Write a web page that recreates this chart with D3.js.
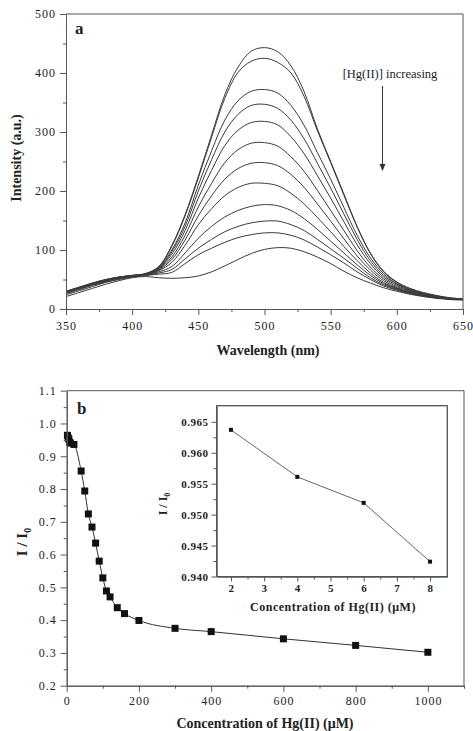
<!DOCTYPE html>
<html>
<head>
<meta charset="utf-8">
<script src="https://cdn.jsdelivr.net/npm/d3@7"></script>
<style>
  body { margin: 0; background: #fff; }
  svg text { font-family: "Liberation Serif", "Times New Roman", serif; fill: #222; }
</style>
</head>
<body>
<div id="chart"></div>
<script>
// ---------- data: panel a (emission spectra) ----------
const wavelengths = [350, 360, 370, 380, 390, 400, 410, 420, 430, 440, 450, 460, 470, 480, 490, 500,
  510, 520, 530, 540, 550, 560, 570, 580, 590, 600, 610, 620, 630, 640, 650];

const spectra = [
  [30, 37, 44, 50, 54, 57, 60, 72, 108, 160, 225, 295, 363, 410, 437, 443, 436, 412, 368, 305, 250, 195, 140, 95, 64, 46, 35, 28, 23, 19, 17],
  [30, 37, 44, 50, 54, 57, 60, 71, 106, 158, 222, 291, 357, 401, 420, 425, 418, 400, 360, 302, 248, 193, 139, 94, 63, 45, 34, 27, 22, 19, 17],
  [29, 36, 43, 49, 54, 57, 59, 70, 100, 146, 210, 268, 320, 353, 369, 372, 366, 345, 311, 265, 220, 172, 125, 87, 60, 43, 33, 26, 22, 18, 17],
  [29, 36, 43, 49, 54, 56, 59, 69, 97, 140, 200, 253, 300, 330, 345, 347, 340, 320, 288, 247, 205, 161, 118, 82, 57, 42, 32, 26, 21, 18, 16],
  [29, 36, 43, 49, 53, 56, 59, 68, 93, 133, 188, 235, 277, 303, 316, 318, 312, 292, 263, 226, 188, 148, 109, 77, 54, 40, 31, 25, 21, 18, 16],
  [28, 35, 42, 48, 53, 56, 59, 67, 88, 125, 173, 213, 248, 270, 281, 282, 276, 258, 233, 201, 167, 133, 99, 71, 51, 38, 30, 24, 20, 17, 16],
  [28, 35, 42, 48, 53, 56, 58, 66, 84, 117, 158, 192, 220, 238, 247, 248, 243, 228, 206, 178, 149, 119, 90, 66, 48, 36, 29, 24, 20, 17, 16],
  [28, 35, 42, 48, 53, 56, 58, 65, 79, 108, 143, 170, 192, 206, 213, 213, 209, 196, 178, 155, 131, 106, 82, 61, 45, 35, 28, 23, 19, 17, 16],
  [27, 34, 41, 47, 52, 55, 58, 63, 72, 95, 120, 140, 156, 167, 174, 177, 175, 167, 153, 135, 115, 95, 75, 57, 43, 34, 27, 23, 19, 17, 16],
  [26, 33, 40, 46, 51, 55, 57, 61, 67, 85, 103, 118, 131, 140, 146, 149, 149, 143, 133, 118, 102, 86, 69, 53, 41, 33, 27, 22, 19, 17, 16],
  [24, 31, 38, 45, 50, 54, 57, 59, 62, 77, 92, 103, 113, 121, 126, 129, 129, 125, 117, 105, 92, 78, 63, 50, 39, 32, 26, 22, 19, 17, 16],
  [21, 28, 35, 42, 48, 53, 55, 53, 52, 53, 56, 63, 73, 84, 94, 101, 104, 103, 97, 88, 77, 64, 53, 44, 36, 30, 25, 21, 18, 16, 15]
];

const aXTicks = [350, 400, 450, 500, 550, 600, 650];
const aXMinor = [375, 425, 475, 525, 575, 625];
const aYTicks = [0, 100, 200, 300, 400, 500];
const aYMinor = [50, 150, 250, 350, 450];

// ---------- data: panel b (quenching curve) ----------
const conc = [2, 4, 6, 8, 10, 20, 40, 50, 60, 70, 80, 90, 100, 110, 120, 140, 160, 200, 300, 400, 600, 800, 1000];
const ratio = [0.964, 0.956, 0.952, 0.943, 0.940, 0.936, 0.855, 0.794, 0.724, 0.684, 0.635, 0.580, 0.529, 0.489,
  0.471, 0.438, 0.420, 0.399, 0.375, 0.365, 0.343, 0.323, 0.302];

const bXTicks = [0, 200, 400, 600, 800, 1000];
const bXMinor = [100, 300, 500, 700, 900, 1100];
const bYTicks = [0.2, 0.3, 0.4, 0.5, 0.6, 0.7, 0.8, 0.9, 1.0, 1.1];
const bYMinor = [0.25, 0.35, 0.45, 0.55, 0.65, 0.75, 0.85, 0.95, 1.05];

// inset
const insetConc = [2, 4, 6, 8];
const insetRatio = [0.9637, 0.9561, 0.9519, 0.9424];
const iXTicks = [2, 3, 4, 5, 6, 7, 8];
const iXMinor = [2.5, 3.5, 4.5, 5.5, 6.5, 7.5];
const iYTicks = [0.940, 0.945, 0.950, 0.955, 0.960, 0.965];
const iYMinor = [0.9425, 0.9475, 0.9525, 0.9575, 0.9625];

// ---------- svg ----------
const svg = d3.select("#chart").append("svg")
  .attr("width", 473)
  .attr("height", 731);

// draws bottom/left axes with minor ticks plus top/right frame
function frame(box, x, y, cfg) {
  const g = svg.append("g");
  const style = (sel) => {
    sel.selectAll("path, line").attr("stroke", "#555").attr("stroke-width", 1);
    sel.selectAll("text")
      .style("font-size", cfg.fontSize + "px")
      .style("font-weight", cfg.weight)
      .style("letter-spacing", cfg.spacing + "px");
  };
  g.append("g").attr("transform", `translate(0,${box.bottom})`)
    .call(d3.axisBottom(x).tickValues(cfg.xMinor).tickSize(cfg.minor).tickFormat("").tickSizeOuter(0))
    .call(style);
  g.append("g").attr("transform", `translate(${box.left},0)`)
    .call(d3.axisLeft(y).tickValues(cfg.yMinor).tickSize(cfg.minor).tickFormat("").tickSizeOuter(0))
    .call(style);
  g.append("g").attr("transform", `translate(0,${box.bottom})`)
    .call(d3.axisBottom(x).tickValues(cfg.xTicks).tickSize(cfg.major).tickPadding(cfg.xPad)
      .tickFormat(cfg.xFmt).tickSizeOuter(0))
    .call(style);
  g.append("g").attr("transform", `translate(${box.left},0)`)
    .call(d3.axisLeft(y).tickValues(cfg.yTicks).tickSize(cfg.major).tickPadding(cfg.yPad)
      .tickFormat(cfg.yFmt).tickSizeOuter(0))
    .call(style);
  g.append("path")
    .attr("d", `M${box.left},${box.top}H${box.right}V${box.bottom}`)
    .attr("fill", "none")
    .attr("stroke", "#555");
}

// ---------- panel a ----------
const boxA = { left: 66, right: 463, top: 14, bottom: 309 };
const xA = d3.scaleLinear().domain([350, 650]).range([boxA.left, boxA.right]);
const yA = d3.scaleLinear().domain([0, 500]).range([boxA.bottom, boxA.top]);

const lineA = d3.line()
  .x((d, i) => xA(wavelengths[i]))
  .y((d) => yA(d))
  .curve(d3.curveCatmullRom.alpha(0.5));

svg.append("g")
  .selectAll("path")
  .data(spectra)
  .join("path")
  .attr("d", lineA)
  .attr("fill", "none")
  .attr("stroke", "#3a3a3a")
  .attr("stroke-width", 1);

frame(boxA, xA, yA, {
  xTicks: aXTicks, xMinor: aXMinor, yTicks: aYTicks, yMinor: aYMinor,
  xFmt: d3.format("d"), yFmt: d3.format("d"),
  major: 6, minor: 3, xPad: 6, yPad: 4, fontSize: 12, weight: "normal", spacing: 1
});

svg.append("text").attr("x", 75).attr("y", 34)
  .style("font-size", "17px").style("font-weight", "bold").text("a");

svg.append("text").attr("x", 268).attr("y", 355).attr("text-anchor", "middle")
  .style("font-size", "14px").style("font-weight", "bold").text("Wavelength (nm)");

svg.append("text").attr("transform", "translate(21,158) rotate(-90)").attr("text-anchor", "middle")
  .style("font-size", "14px").style("font-weight", "bold").text("Intensity (a.u.)");

// arrow annotation
svg.append("text").attr("x", 390).attr("y", 78).attr("text-anchor", "middle")
  .style("font-size", "12.5px").text("[Hg(II)] increasing");
svg.append("line")
  .attr("x1", 382.5).attr("x2", 382.5).attr("y1", 86).attr("y2", 166)
  .attr("stroke", "#333").attr("stroke-width", 1);
svg.append("path")
  .attr("d", "M379.5,164 L385.5,164 L382.5,171 Z")
  .attr("fill", "#333");

// ---------- panel b ----------
const boxB = { left: 66.7, right: 464, top: 390.7, bottom: 685.7 };
const xB = d3.scaleLinear().domain([0, 1100]).range([boxB.left, boxB.right]);
const yB = d3.scaleLinear().domain([0.2, 1.1]).range([boxB.bottom, boxB.top]);

svg.append("path")
  .datum(conc)
  .attr("d", d3.line()
    .x((d) => xB(d))
    .y((d, i) => yB(ratio[i]))
    .curve(d3.curveMonotoneX))
  .attr("fill", "none")
  .attr("stroke", "#333")
  .attr("stroke-width", 1);

svg.append("g")
  .selectAll("rect")
  .data(conc)
  .join("rect")
  .attr("x", (d) => xB(d) - 3.5)
  .attr("y", (d, i) => yB(ratio[i]) - 3.5)
  .attr("width", 7)
  .attr("height", 7)
  .attr("fill", "#111");

frame(boxB, xB, yB, {
  xTicks: bXTicks, xMinor: bXMinor, yTicks: bYTicks, yMinor: bYMinor,
  xFmt: d3.format("d"), yFmt: d3.format(".1f"),
  major: 6, minor: 3, xPad: 5, yPad: 4, fontSize: 12, weight: "normal", spacing: 1
});

svg.append("text").attr("x", 77).attr("y", 414)
  .style("font-size", "17px").style("font-weight", "bold").text("b");

svg.append("text").attr("x", 265).attr("y", 728).attr("text-anchor", "middle")
  .style("font-size", "14px").style("font-weight", "bold").text("Concentration of Hg(II) (\u03BCM)");

const yLabB = svg.append("text").attr("transform", "translate(27,542) rotate(-90)").attr("text-anchor", "middle")
  .style("font-size", "15px").style("font-weight", "bold");
yLabB.append("tspan").text("I / I");
yLabB.append("tspan").attr("dy", 4).style("font-size", "10px").text("0");

// ---------- inset ----------
const boxI = { left: 216.5, right: 447.3, top: 405.7, bottom: 576.5 };
const xI = d3.scaleLinear().domain([1.565, 8.52]).range([boxI.left, boxI.right]);
const yI = d3.scaleLinear().domain([0.940, 0.9676]).range([boxI.bottom, boxI.top]);

svg.append("rect")
  .attr("x", boxI.left).attr("y", boxI.top)
  .attr("width", boxI.right - boxI.left).attr("height", boxI.bottom - boxI.top)
  .attr("fill", "#fff").attr("stroke", "#555");

svg.append("path")
  .datum(insetConc)
  .attr("d", d3.line().x((d) => xI(d)).y((d, i) => yI(insetRatio[i])))
  .attr("fill", "none")
  .attr("stroke", "#666")
  .attr("stroke-width", 1);

svg.append("g")
  .selectAll("rect")
  .data(insetConc)
  .join("rect")
  .attr("x", (d) => xI(d) - 2)
  .attr("y", (d, i) => yI(insetRatio[i]) - 2)
  .attr("width", 4)
  .attr("height", 4)
  .attr("fill", "#111");

frame(boxI, xI, yI, {
  xTicks: iXTicks, xMinor: iXMinor, yTicks: iYTicks, yMinor: iYMinor,
  xFmt: d3.format("d"), yFmt: d3.format(".3f"),
  major: 5, minor: 3, xPad: 3, yPad: 3, fontSize: 11, weight: "bold", spacing: 0.5
});

svg.append("text").attr("x", 333).attr("y", 611).attr("text-anchor", "middle")
  .style("font-size", "12px").style("font-weight", "bold").style("letter-spacing", "0.5px")
  .text("Concentration of Hg(II) (\u03BCM)");

const yLabI = svg.append("text").attr("transform", "translate(167,504) rotate(-90)").attr("text-anchor", "middle")
  .style("font-size", "12px").style("font-weight", "bold");
yLabI.append("tspan").text("I / I");
yLabI.append("tspan").attr("dy", 3).style("font-size", "8px").text("0");
</script>
</body>
</html>
